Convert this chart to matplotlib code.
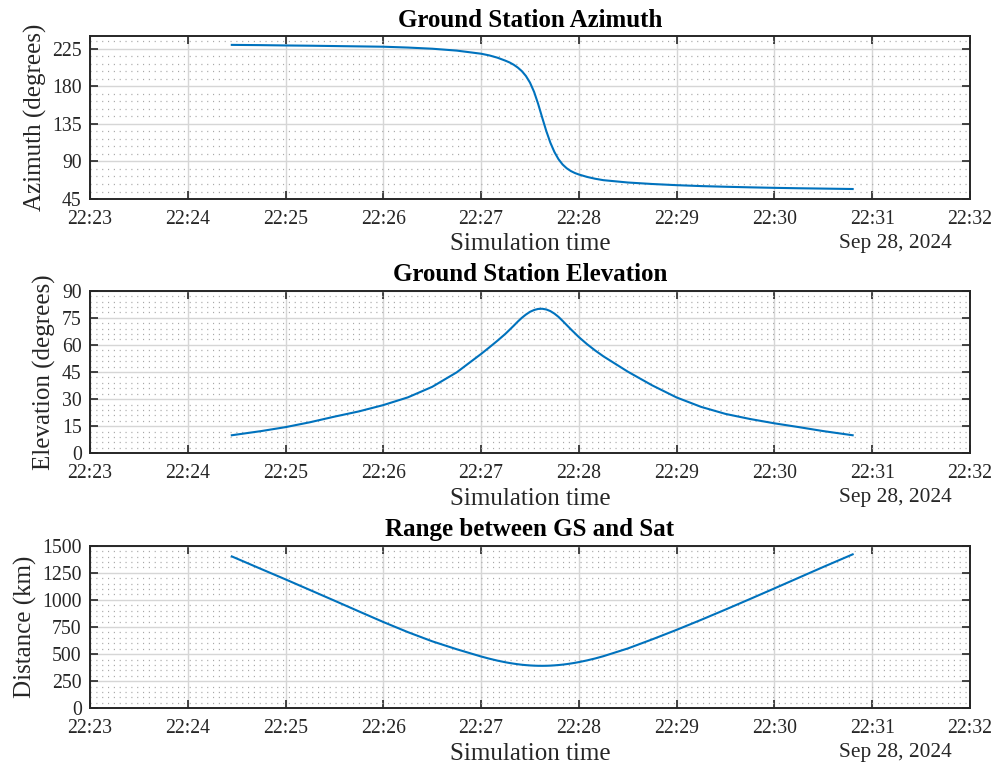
import matplotlib
matplotlib.use('Agg')
import matplotlib.pyplot as plt
import matplotlib.dates as mdates
from matplotlib.ticker import MultipleLocator, AutoMinorLocator
import pandas as pd

# pass samples, Sep 28, 2024
times = ["22:24:27", "22:24:45", "22:25:00", "22:25:15", "22:25:30", "22:25:45",
         "22:26:00", "22:26:15", "22:26:30", "22:26:45", "22:27:00", "22:27:05",
         "22:27:10", "22:27:15", "22:27:17.5", "22:27:20", "22:27:22.5", "22:27:25",
         "22:27:27.5", "22:27:30", "22:27:32.5", "22:27:35", "22:27:37.5", "22:27:40",
         "22:27:42.5", "22:27:45", "22:27:47.5", "22:27:50", "22:27:52.5", "22:27:55",
         "22:27:57.5", "22:28:00", "22:28:05", "22:28:10", "22:28:15", "22:28:30",
         "22:28:45", "22:29:00", "22:29:15", "22:29:30", "22:29:45", "22:30:00",
         "22:30:15", "22:30:30", "22:30:48"]
azimuth = [229.8, 229.5, 229.1, 228.8, 228.4, 228.0,
           227.6, 226.6, 225.2, 222.95, 219.2, 217.2,
           214.45, 210.8, 208.7, 206.0, 202.6, 198.3,
           192.5, 184.5, 173.5, 159.0, 142.5, 126.5,
           112.5, 101.3, 92.7, 86.4, 81.9, 78.6,
           76.2, 74.4, 71.5, 69.3, 67.6, 64.8,
           63.0, 61.6, 60.5, 59.7, 59.0, 58.4,
           57.9, 57.5, 57.0]
elevation = [10.0, 12.3, 14.5, 17.2, 20.3, 23.2,
             26.7, 30.95, 36.8, 44.8, 55.0, 58.6,
             62.3, 66.2, 68.4, 70.6, 72.9, 75.0,
             76.8, 78.3, 79.3, 79.9, 80.0, 79.6,
             78.7, 77.3, 75.5, 73.3, 71.0, 68.7,
             66.5, 64.3, 60.4, 56.9, 53.7, 45.2,
             37.6, 30.9, 25.7, 21.8, 19.0, 16.6,
             14.5, 12.3, 10.0]
rng = [1401, 1285, 1189, 1091, 993, 894,
       796, 703, 618, 545, 478, 458,
       440, 424.6, 417.8, 412, 406.6, 402,
       398.4, 395.6, 393.5, 392.3, 392, 392.5,
       393.9, 396.2, 399.3, 403, 407.8, 413.3,
       419.4, 426.3, 442, 460, 480.6, 552,
       636, 724, 816, 911, 1008, 1106,
       1205, 1304, 1420]

t = pd.to_datetime(["2024-09-28 " + s for s in times], format='ISO8601')
t0 = pd.Timestamp("2024-09-28 22:23:00")
t1 = pd.Timestamp("2024-09-28 22:32:00")

plt.rcParams['font.family'] = ['Liberation Serif', 'DejaVu Serif']
plt.rcParams['lines.scale_dashes'] = False

fig = plt.figure(figsize=(9.97, 7.69), dpi=100)
left, width, height = 0.0903, 0.8826, 0.2115
bottoms = [0.7412, 0.4105, 0.0789]

panels = [
    ("Ground Station Azimuth", "Azimuth (degrees)", azimuth, (45, 240), 45),
    ("Ground Station Elevation", "Elevation (degrees)", elevation, (0, 90), 15),
    ("Range between GS and Sat", "Distance (km)", rng, (0, 1500), 250),
]

dark = '#262626'
for (title, ylabel, vals, ylim, step), b in zip(panels, bottoms):
    ax = fig.add_axes([left, b, width, height])
    ax.plot(t, vals, color='#0072BD', lw=1.5)
    ax.set_xlim(t0, t1)
    ax.set_ylim(*ylim)
    ax.yaxis.set_major_locator(MultipleLocator(step))
    ax.yaxis.set_minor_locator(AutoMinorLocator(5))
    ax.xaxis.set_major_locator(mdates.MinuteLocator())
    ax.xaxis.set_major_formatter(mdates.DateFormatter('%H:%M'))
    ax.grid(True, which='major', color='#d6d6d6', lw=1.0)
    ax.yaxis.grid(True, which='minor', color='#a8a8a8', lw=0.9,
                  linestyle=(0, (0.8, 3.4)))
    ax.set_axisbelow(True)
    ax.tick_params(which='major', direction='in', length=6, width=1.2,
                   color=dark, labelcolor=dark, labelsize=14.2,
                   top=True, right=True, pad=8)
    ax.tick_params(axis='y', which='major', pad=6)
    ax.tick_params(which='minor', length=0)
    for sp in ax.spines.values():
        sp.set_color(dark)
        sp.set_linewidth(1.4)
    ax.set_title(title, fontsize=18, fontweight='bold', color='black', pad=7)
    ax.set_ylabel(ylabel, fontsize=18, color=dark, labelpad=4)
    ax.set_xlabel("Simulation time", fontsize=18, color=dark, labelpad=3)
    ax.text(0.979, -0.272, "Sep 28, 2024", transform=ax.transAxes,
            ha='right', va='center', fontsize=15.4, color=dark)

fig.savefig("out.png", dpi=100)
